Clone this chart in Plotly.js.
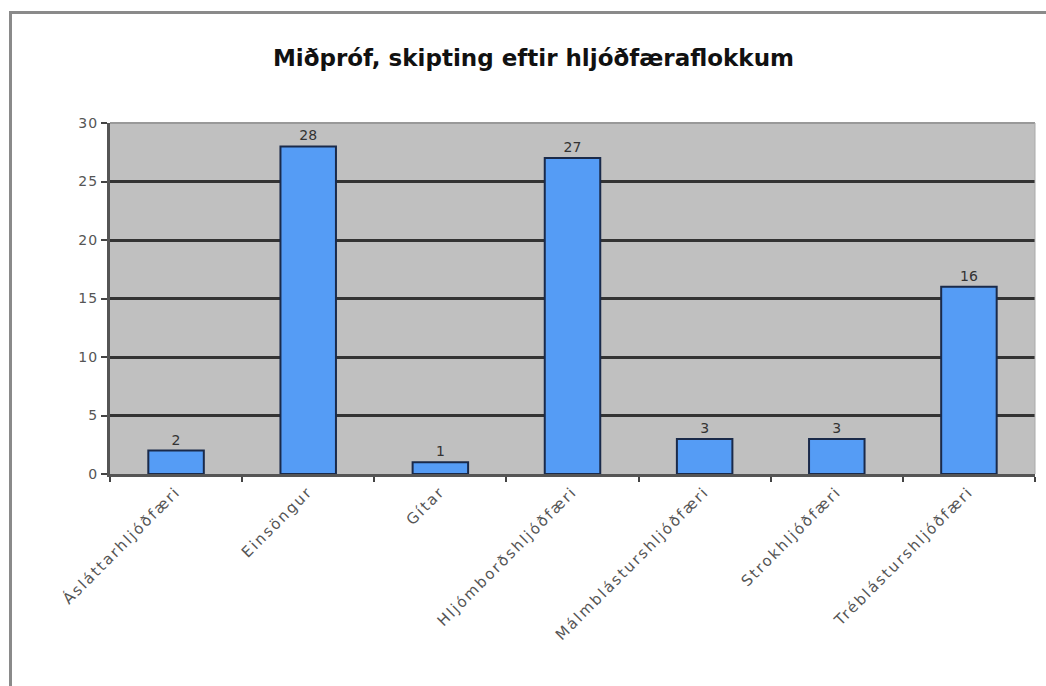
<!DOCTYPE html>
<html>
<head>
<meta charset="utf-8">
<script src="https://cdn.plot.ly/plotly-3.0.1.min.js"></script>
<style>
html,body{margin:0;padding:0;background:#fff;}
#frame{position:absolute;left:9px;top:11px;width:1037px;height:675px;border-top:3px solid #8a8a8a;border-left:3px solid #8a8a8a;box-sizing:border-box;}
#chart{position:absolute;left:0;top:0;width:1046px;height:686px;}
#chart .xtick text{letter-spacing:2px;}
#chart .ytick text{letter-spacing:1px;}
</style>
</head>
<body>
<div id="frame"></div>
<div id="chart"></div>
<script>
const categories = ["Ásláttarhljóðfæri","Einsöngur","Gítar","Hljómborðshljóðfæri","Málmblásturshljóðfæri","Strokhljóðfæri","Tréblásturshljóðfæri"];
const counts = [2, 28, 1, 27, 3, 3, 16];
const yTicks = [0, 5, 10, 15, 20, 25, 30];

const trace = {
  type: 'bar',
  x: categories,
  y: counts,
  text: counts.map(String),
  textposition: 'outside',
  cliponaxis: false,
  textfont: {family: 'DejaVu Sans', size: 14, color: '#333'},
  marker: {color: '#559cf5', line: {color: '#1a2a4a', width: 2}},
  hoverinfo: 'x+y'
};

const layout = {
  width: 1046, height: 686,
  paper_bgcolor: 'rgba(0,0,0,0)',
  plot_bgcolor: '#c0c0c0',
  margin: {l: 110, r: 11, t: 123, b: 212},
  bargap: 0.58,
  showlegend: false,
  title: {text: '<b>Miðpróf, skipting eftir hljóðfæraflokkum</b>', x: 0.51, xanchor: 'center', y: 0.915, yanchor: 'middle',
          font: {family: 'DejaVu Sans', size: 23, color: '#111'}},
  xaxis: {
    type: 'category',
    tickangle: -45,
    tickson: 'boundaries',
    ticks: 'outside', ticklen: 5, tickcolor: '#444', tickwidth: 2,
    showline: true, linecolor: '#555', linewidth: 3,
    tickfont: {family: 'DejaVu Sans', size: 15, color: '#555'},
    showgrid: false
  },
  yaxis: {
    range: [0, 30],
    tickvals: yTicks,
    ticktext: yTicks.map(String),
    ticks: 'outside', ticklen: 6, tickcolor: '#444', tickwidth: 2,
    showline: true, linecolor: '#555', linewidth: 3,
    showgrid: true, gridcolor: '#333', gridwidth: 3,
    zeroline: false,
    tickfont: {family: 'DejaVu Sans', size: 14, color: '#555'}
  },
  shapes: [
    {type: 'line', xref: 'paper', yref: 'paper', x0: 0, x1: 1, y0: 1, y1: 1, line: {color: '#999', width: 2}},
    {type: 'line', xref: 'paper', yref: 'paper', x0: 1, x1: 1, y0: 0, y1: 1, line: {color: '#aaa', width: 1}}
  ]
};

Plotly.newPlot('chart', [trace], layout, {displayModeBar: false, staticPlot: true});
</script>
</body>
</html>
